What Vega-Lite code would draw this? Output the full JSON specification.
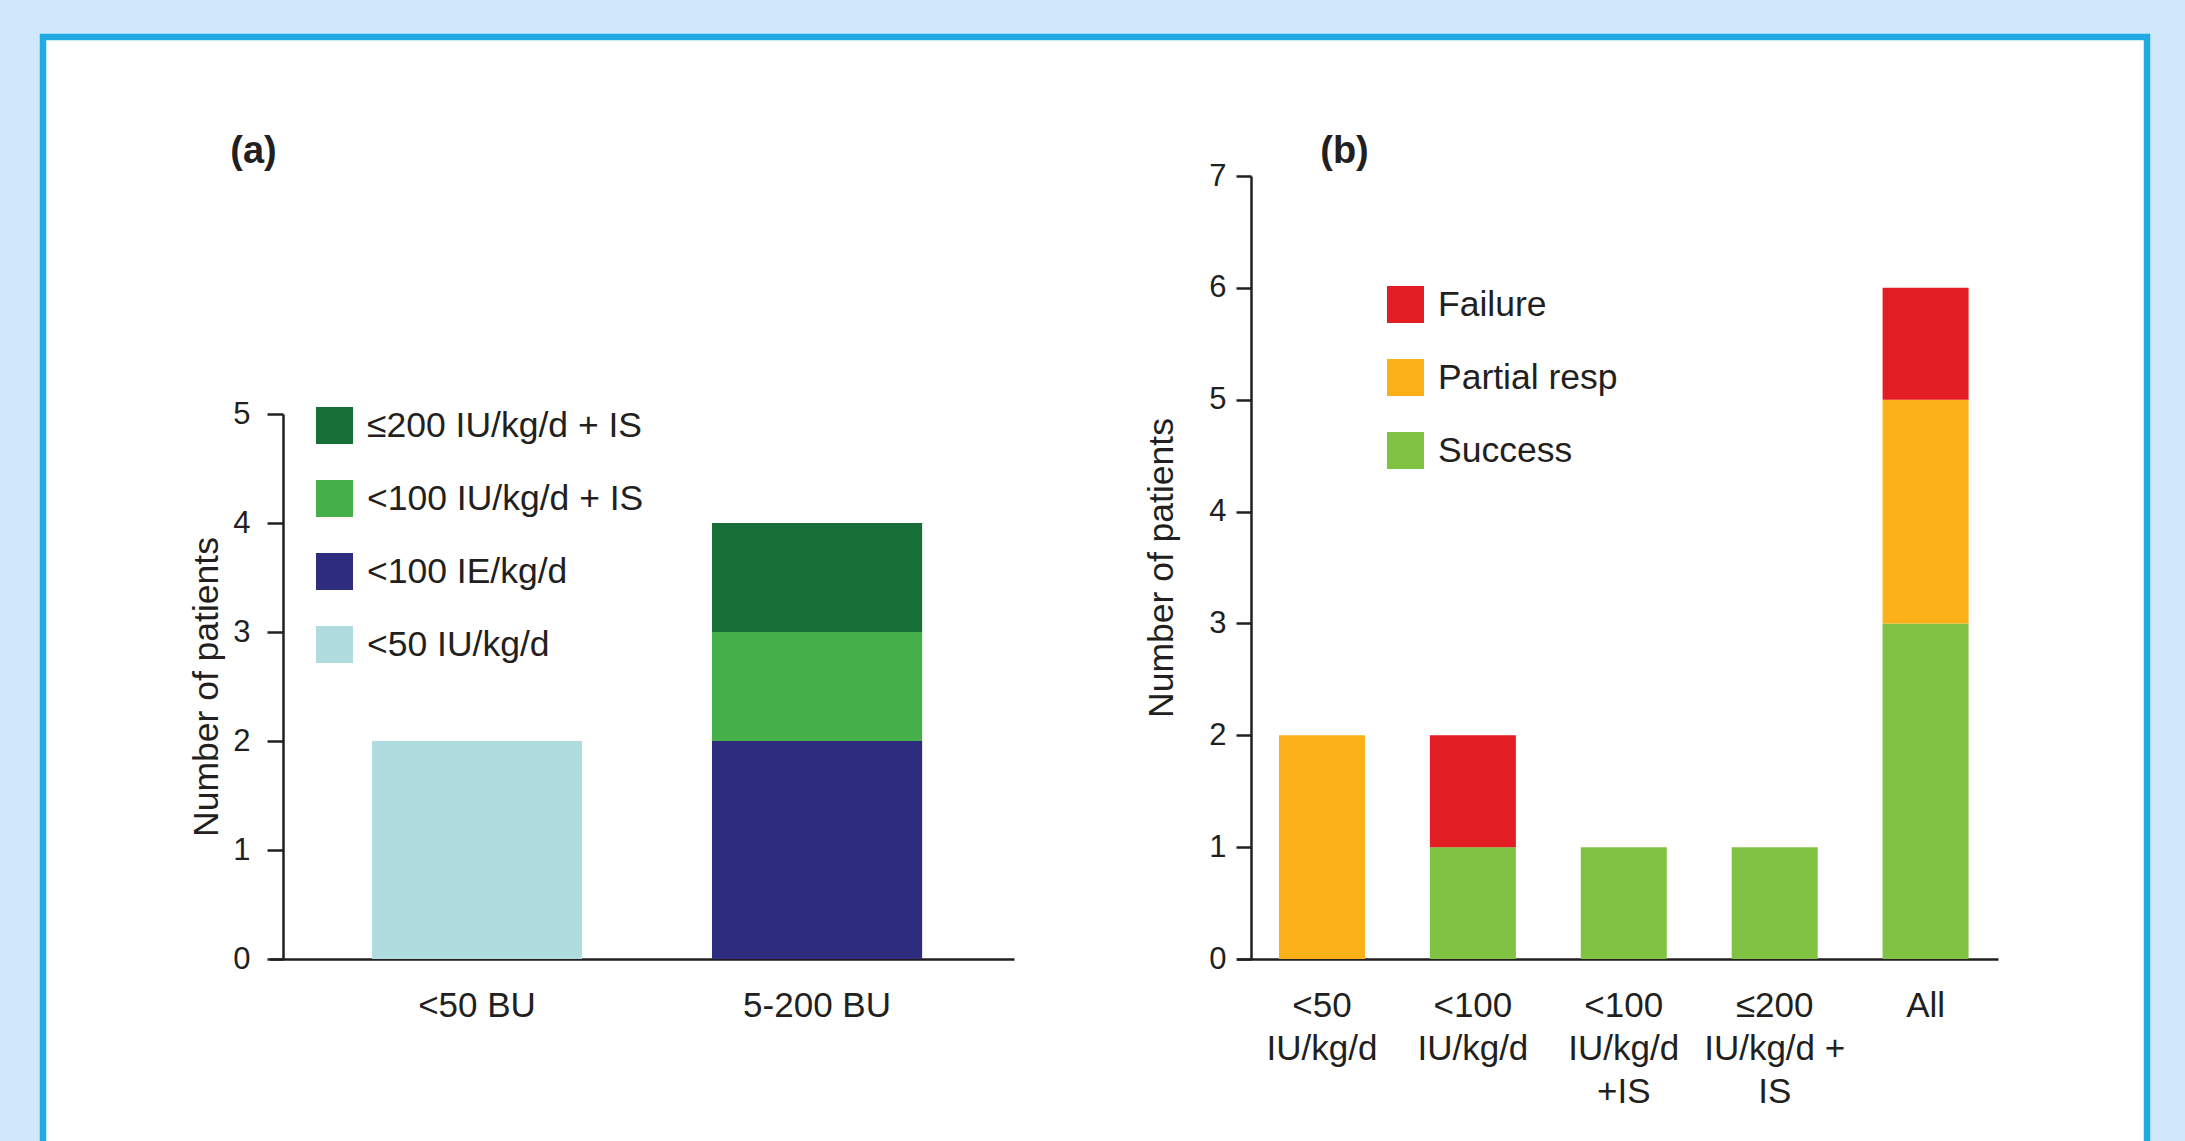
{
  "$schema": "https://vega.github.io/schema/vega-lite/v6.json",
  "width": 2104,
  "height": 1104,
  "autosize": {"type": "none"},
  "padding": {"left": 43, "top": 37, "right": 38, "bottom": 0},
  "background": "#cfe8fc",
  "view": {"fill": "white", "stroke": "#21a9e1", "strokeWidth": 6.5, "strokeDash": [3208, 2104, 1104]},
  "config": {
    "font": "Liberation Sans",
    "axis": {
      "labelFont": "Liberation Sans", "titleFont": "Liberation Sans",
      "labelFontSize": 31, "titleFontSize": 35.5,
      "labelColor": "#231f20", "titleColor": "#231f20",
      "domainColor": "#231f20", "tickColor": "#231f20",
      "domainWidth": 2.5, "tickWidth": 2.5,
      "titleFontWeight": "normal", "grid": false, "labelLimit": 400
    },
    "legend": {
      "labelFont": "Liberation Sans", "labelFontSize": 35.5, "labelColor": "#231f20",
      "symbolType": "square", "symbolSize": 1369, "symbolStrokeWidth": 0, "symbolOpacity": 1,
      "labelOffset": 14, "rowPadding": 36, "padding": 0, "labelLimit": 600
    }
  },
  "datasets": {
    "panelA": [
      {"group": "<50 BU", "treatment": "<50 IU/kg/d", "n": 2, "rank": 1},
      {"group": "5-200 BU", "treatment": "<100 IE/kg/d", "n": 2, "rank": 1},
      {"group": "5-200 BU", "treatment": "<100 IU/kg/d + IS", "n": 1, "rank": 2},
      {"group": "5-200 BU", "treatment": "≤200 IU/kg/d + IS", "n": 1, "rank": 3}
    ],
    "panelB": [
      {"regimen": "<50\nIU/kg/d", "outcome": "Partial resp", "n": 2, "rank": 2},
      {"regimen": "<100\nIU/kg/d", "outcome": "Success", "n": 1, "rank": 1},
      {"regimen": "<100\nIU/kg/d", "outcome": "Failure", "n": 1, "rank": 3},
      {"regimen": "<100\nIU/kg/d\n+IS", "outcome": "Success", "n": 1, "rank": 1},
      {"regimen": "≤200\nIU/kg/d +\nIS", "outcome": "Success", "n": 1, "rank": 1},
      {"regimen": "All", "outcome": "Success", "n": 3, "rank": 1},
      {"regimen": "All", "outcome": "Partial resp", "n": 2, "rank": 2},
      {"regimen": "All", "outcome": "Failure", "n": 1, "rank": 3}
    ]
  },
  "layer": [
    {
      "data": {"name": "panelA"},
      "mark": {"type": "bar"},
      "encoding": {
        "x": {
          "field": "group", "type": "nominal", "sort": ["<50 BU", "5-200 BU"],
          "scale": {"range": [227, 971], "paddingInner": 0.382, "paddingOuter": 0.285, "align": 0.526},
          "axis": {
            "orient": "bottom", "offset": -182, "ticks": false, "labelPadding": 29, "labelAngle": 0,
            "labelFontSize": 35,
            "title": "(a)", "titleX": 210, "titleY": -797, "titleBaseline": "alphabetic", "titleAlign": "center",
            "titleFontSize": 38, "titleFontWeight": "bold"
          }
        },
        "y": {
          "field": "n", "type": "quantitative", "stack": "zero",
          "scale": {"domain": [0, 5], "range": [922, 377], "nice": false},
          "axis": {
            "orient": "left", "offset": -240, "values": [0, 1, 2, 3, 4, 5],
            "title": "Number of patients", "titlePadding": 8, "tickSize": 16, "labelPadding": 17
          }
        },
        "color": {
          "field": "treatment", "type": "nominal",
          "scale": {
            "domain": ["≤200 IU/kg/d + IS", "<100 IU/kg/d + IS", "<100 IE/kg/d", "<50 IU/kg/d"],
            "range": ["#176e36", "#45b049", "#2e2c7e", "#b0dce0"]
          },
          "legend": {"orient": "none", "legendX": 273, "legendY": 370, "title": null}
        },
        "order": {"field": "rank", "type": "quantitative"}
      }
    },
    {
      "data": {"name": "panelB"},
      "mark": {"type": "bar"},
      "encoding": {
        "x": {
          "field": "regimen", "type": "nominal",
          "sort": ["<50\nIU/kg/d", "<100\nIU/kg/d", "<100\nIU/kg/d\n+IS", "≤200\nIU/kg/d +\nIS", "All"],
          "scale": {"range": [1194, 1955], "paddingInner": 0.43, "paddingOuter": 0.2365, "align": 0.588},
          "axis": {
            "orient": "bottom", "offset": -182, "ticks": false, "labelPadding": 29, "labelAngle": 0,
            "labelFontSize": 35, "labelExpr": "split(datum.label, '\\n')", "labelLineHeight": 43,
            "title": "(b)", "titleX": 1301, "titleY": -797, "titleBaseline": "alphabetic", "titleAlign": "center",
            "titleFontSize": 38, "titleFontWeight": "bold"
          }
        },
        "y": {
          "field": "n", "type": "quantitative", "stack": "zero",
          "scale": {"domain": [0, 7], "range": [922, 139], "nice": false},
          "axis": {
            "orient": "left", "offset": -1208, "values": [0, 1, 2, 3, 4, 5, 6, 7],
            "title": "Number of patients", "titlePadding": 29, "tickSize": 15, "labelPadding": 10
          }
        },
        "color": {
          "field": "outcome", "type": "nominal",
          "scale": {
            "domain": ["Failure", "Partial resp", "Success"],
            "range": ["#e31d24", "#fbb017", "#80c241"]
          },
          "legend": {"orient": "none", "legendX": 1344, "legendY": 249, "title": null}
        },
        "order": {"field": "rank", "type": "quantitative"}
      }
    }
  ],
  "resolve": {
    "scale": {"x": "independent", "y": "independent", "color": "independent"},
    "axis": {"x": "independent", "y": "independent"},
    "legend": {"color": "independent"}
  }
}
